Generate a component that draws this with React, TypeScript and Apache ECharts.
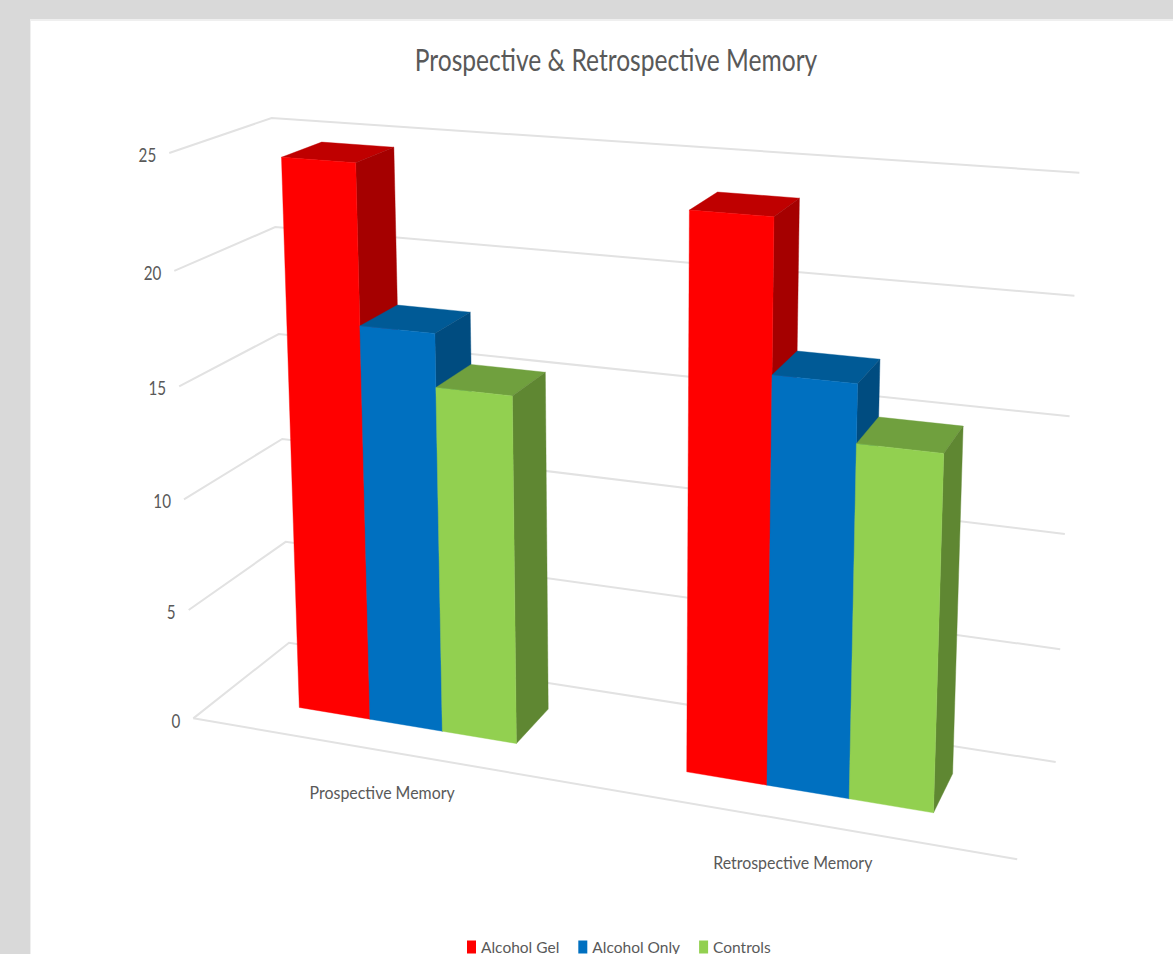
import React, { useEffect, useRef } from "react";
import * as echarts from "echarts";

// ---- chart data ----
const categories = ["Prospective Memory", "Retrospective Memory"];
const seriesNames = ["Alcohol Gel", "Alcohol Only", "Controls"];
const alcoholGel = [24.6, 23.7];
const alcoholOnly = [17.65, 17.35];
const controls = [15.33, 14.93];
const yTicks = [0, 5, 10, 15, 20, 25];
const yMax = 25;

// front, top and side shades of each bar colour
const redFaces = ["#FF0000", "#BF0000", "#A50000"];
const blueFaces = ["#0070C0", "#005A96", "#004C80"];
const greenFaces = ["#92D050", "#70A03E", "#5F8732"];

const TEXT = "#595959";
const GRIDLINE = "#E2E2E2";
const FONT = "Lato";

// The hidden cartesian grid supplies the scales; its plane is then carried into
// the tilted 3D box by the projection below.
const GRID = { left: 0, top: 0, width: 1000, height: 900 };
const GAP_WIDTH = 2.21; // gap between groups, in bar widths
const DEPTH_FRONT = 0.295;
const DEPTH_BACK = 0.71;

// Box reference points: [along category axis, up value axis, into depth, screen x, screen y]
const boxPoints: number[][] = [
  [0, 0, 0, 193.3, 718.3],
  [0, 0.6, 0, 179, 386.7],
  [0, 0.8, 0, 174.3, 271],
  [0, 1, 0, 169.3, 152.7],
  [0, 0, 1, 289, 642.7],
  [0, 0.6, 1, 279, 334],
  [0, 0.8, 1, 275, 226.7],
  [0, 1, 1, 271.7, 118.3],
  [1, 0, 1, 1055.7, 762.3],
  [1, 0.6, 1, 1069.3, 416],
  [1, 0.8, 1, 1074.7, 296],
  [1, 1, 1, 1079.3, 172.7],
  [1, 0, 0, 1017.3, 859],
];

function solveLinear(A: number[][], b: number[]): number[] {
  const n = b.length;
  const M = A.map((row, i) => [...row, b[i]]);
  for (let c = 0; c < n; c++) {
    let piv = c;
    for (let r = c + 1; r < n; r++) if (Math.abs(M[r][c]) > Math.abs(M[piv][c])) piv = r;
    [M[c], M[piv]] = [M[piv], M[c]];
    for (let r = 0; r < n; r++) {
      if (r === c) continue;
      const f = M[r][c] / M[c][c];
      for (let k = c; k <= n; k++) M[r][k] -= f * M[c][k];
    }
  }
  return M.map((row, i) => row[n] / row[i]);
}

// Least-squares 3x4 camera matrix (last entry fixed to 1) through the box points.
function fitCamera(pts: number[][]): number[] {
  const rows: number[][] = [];
  const rhs: number[] = [];
  for (const [u, v, w, x, y] of pts) {
    rows.push([u, v, w, 1, 0, 0, 0, 0, -x * u, -x * v, -x * w]);
    rhs.push(x);
    rows.push([0, 0, 0, 0, u, v, w, 1, -y * u, -y * v, -y * w]);
    rhs.push(y);
  }
  const N = 11;
  const AtA = Array.from({ length: N }, () => new Array(N).fill(0));
  const Atb = new Array(N).fill(0);
  rows.forEach((row, r) => {
    for (let i = 0; i < N; i++) {
      Atb[i] += row[i] * rhs[r];
      for (let j = 0; j < N; j++) AtA[i][j] += row[i] * row[j];
    }
  });
  return solveLinear(AtA, Atb);
}

const cam = fitCamera(boxPoints);

function project(u: number, v: number, w: number): number[] {
  const d = cam[8] * u + cam[9] * v + cam[10] * w + 1;
  return [
    (cam[0] * u + cam[1] * v + cam[2] * w + cam[3]) / d,
    (cam[4] * u + cam[5] * v + cam[6] * w + cam[7]) / d,
  ];
}

// Grid pixel + depth -> screen position
function place(px: number[], w: number): number[] {
  const u = (px[0] - GRID.left) / GRID.width;
  const v = (GRID.top + GRID.height - px[1]) / GRID.height;
  return project(u, v, w);
}

function barSeries(name: string, values: number[], slot: number, faces: string[]) {
  return {
    type: "custom",
    name,
    coordinateSystem: "cartesian2d",
    itemStyle: { color: faces[0] },
    encode: { x: 0, y: 1 },
    clip: false,
    z: 3,
    data: values.map((v, i) => [i, v]),
    renderItem: (_p: any, api: any) => {
      const cat = api.value(0);
      const base = api.coord([cat, 0]);
      const top = api.coord([cat, api.value(1)]);
      const barW = api.size([1, 0])[0] / (3 + GAP_WIDTH);
      const x0 = base[0] - 1.5 * barW + slot * barW;
      const x1 = x0 + barW;
      const c = (x: number, y: number, w: number) => place([x, y], w);
      const poly = (points: number[][], fill: string) => ({
        type: "polygon",
        shape: { points },
        style: { fill, stroke: fill, lineWidth: 0.4 },
      });
      return {
        type: "group",
        children: [
          poly(
            [c(x0, top[1], DEPTH_FRONT), c(x1, top[1], DEPTH_FRONT), c(x1, top[1], DEPTH_BACK), c(x0, top[1], DEPTH_BACK)],
            faces[1]
          ),
          poly(
            [c(x1, base[1], DEPTH_FRONT), c(x1, top[1], DEPTH_FRONT), c(x1, top[1], DEPTH_BACK), c(x1, base[1], DEPTH_BACK)],
            faces[2]
          ),
          poly(
            [c(x0, base[1], DEPTH_FRONT), c(x1, base[1], DEPTH_FRONT), c(x1, top[1], DEPTH_FRONT), c(x0, top[1], DEPTH_FRONT)],
            faces[0]
          ),
        ],
      };
    },
  };
}

function wallSeries() {
  return {
    type: "custom",
    coordinateSystem: "cartesian2d",
    silent: true,
    clip: false,
    z: 1,
    encode: { x: 0, y: 1 },
    data: yTicks.map((t) => [0, t]),
    renderItem: (_p: any, api: any) => {
      const tick = api.value(1);
      const py = api.coord([0, tick])[1];
      const xL = GRID.left;
      const xR = GRID.left + GRID.width;
      const front = place([xL, py], 0);
      const children: any[] = [
        {
          type: "polyline",
          shape: { points: [front, place([xL, py], 1), place([xR, py], 1)] },
          style: { fill: "none", stroke: GRIDLINE, lineWidth: 2 },
        },
        {
          type: "text",
          x: front[0] - 13,
          y: front[1] + 2,
          scaleX: 0.8,
          style: {
            text: String(tick),
            fontFamily: FONT,
            fontSize: 19,
            fill: TEXT,
            align: "right",
            verticalAlign: "middle",
          },
        },
      ];
      if (tick === 0) {
        children.push({
          type: "line",
          shape: { x1: front[0], y1: front[1], x2: place([xR, py], 0)[0], y2: place([xR, py], 0)[1] },
          style: { stroke: GRIDLINE, lineWidth: 2 },
        });
      }
      return { type: "group", children };
    },
  };
}

function categoryLabelSeries() {
  return {
    type: "custom",
    coordinateSystem: "cartesian2d",
    silent: true,
    clip: false,
    z: 1,
    encode: { x: 0, y: 1 },
    data: categories.map((_c, i) => [i, 0]),
    renderItem: (_p: any, api: any) => {
      const i = api.value(0);
      const at = place(api.coord([i, 0]), 0);
      return {
        type: "text",
        x: at[0] + 2.5,
        y: at[1] + 42,
        scaleX: 0.885,
        style: {
          text: categories[i],
          fontFamily: FONT,
          fontSize: 18,
          fill: TEXT,
          align: "center",
          verticalAlign: "middle",
        },
      };
    },
  };
}

export default function App() {
  const ref = useRef<HTMLDivElement>(null);
  useEffect(() => {
    const chart = echarts.init(ref.current!, undefined, { renderer: "svg" });
    chart.setOption({
      animation: false,
      backgroundColor: "#D9D9D9",
      graphic: [
        { type: "rect", shape: { x: 30, y: 19, width: 1143, height: 935 }, style: { fill: "#EFEFEF" } },
        { type: "rect", shape: { x: 31, y: 21, width: 1142, height: 933 }, style: { fill: "#FFFFFF" } },
        {
          type: "text",
          x: 616,
          y: 59.5,
          scaleX: 0.82,
          style: {
            text: "Prospective & Retrospective Memory",
            fontFamily: FONT,
            fontSize: 30,
            fill: TEXT,
            align: "center",
            verticalAlign: "middle",
          },
        },
      ],
      grid: { ...GRID },
      xAxis: { type: "category", data: categories, show: false },
      yAxis: { type: "value", min: 0, max: yMax, interval: 5, show: false },
      legend: {
        data: seriesNames,
        left: 462,
        top: 934,
        icon: "rect",
        itemWidth: 9,
        itemHeight: 13,
        itemGap: 19,
        selectedMode: false,
        textStyle: { fontFamily: FONT, fontSize: 15.5, color: TEXT },
      },
      series: [
        wallSeries(),
        categoryLabelSeries(),
        barSeries(seriesNames[0], alcoholGel, 0, redFaces),
        barSeries(seriesNames[1], alcoholOnly, 1, blueFaces),
        barSeries(seriesNames[2], controls, 2, greenFaces),
      ],
    });
    return () => chart.dispose();
  }, []);
  return (
    <div style={{ position: "fixed", left: 0, top: 0, width: 1173, height: 954, overflow: "hidden" }}>
      <div ref={ref} style={{ width: 1173, height: 954 }} />
    </div>
  );
}
